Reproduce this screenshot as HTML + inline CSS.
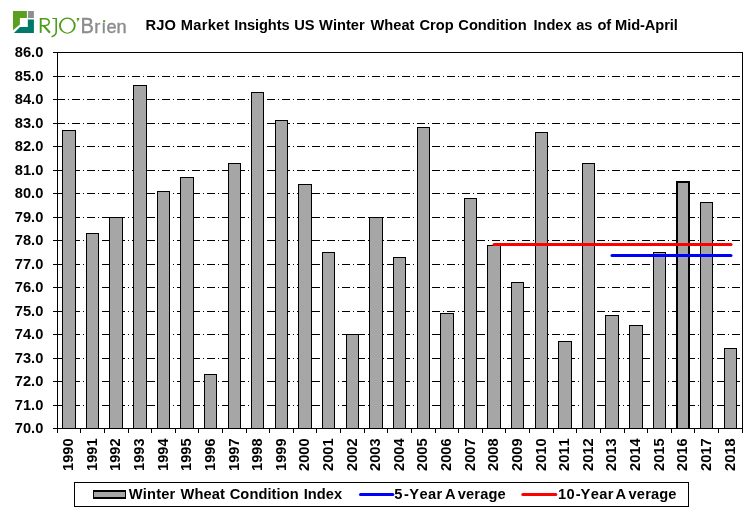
<!DOCTYPE html>
<html><head><meta charset="utf-8"><title>RJO Winter Wheat Crop Condition Index</title>
<style>
html,body{margin:0;padding:0;background:#fff;}
body{width:756px;height:516px;overflow:hidden;font-family:"Liberation Sans",sans-serif;}
svg{display:block;will-change:transform;}
text{font-family:"Liberation Sans",sans-serif;font-weight:bold;font-size:14.67px;fill:#000;font-kerning:none;}
.t{font-size:14.67px;}
.logo{font-weight:normal;font-size:21.4px;}
</style></head><body>
<svg width="756" height="516" viewBox="0 0 756 516">
<rect x="0" y="0" width="756" height="516" fill="#fff"/>

<g stroke="#000" stroke-width="1" shape-rendering="crispEdges" fill="none">
<line x1="57" y1="76.5" x2="741" y2="76.5" stroke-dasharray="8 3 1 3"/>
<line x1="57" y1="99.5" x2="741" y2="99.5" stroke-dasharray="8 3 1 3"/>
<line x1="57" y1="123.5" x2="741" y2="123.5" stroke-dasharray="8 3 1 3"/>
<line x1="57" y1="146.5" x2="741" y2="146.5" stroke-dasharray="8 3 1 3"/>
<line x1="57" y1="170.5" x2="741" y2="170.5" stroke-dasharray="8 3 1 3"/>
<line x1="57" y1="193.5" x2="741" y2="193.5" stroke-dasharray="8 3 1 3"/>
<line x1="57" y1="217.5" x2="741" y2="217.5" stroke-dasharray="8 3 1 3"/>
<line x1="57" y1="240.5" x2="741" y2="240.5" stroke-dasharray="8 3 1 3"/>
<line x1="57" y1="264.5" x2="741" y2="264.5" stroke-dasharray="8 3 1 3"/>
<line x1="57" y1="287.5" x2="741" y2="287.5" stroke-dasharray="8 3 1 3"/>
<line x1="57" y1="311.5" x2="741" y2="311.5" stroke-dasharray="8 3 1 3"/>
<line x1="57" y1="334.5" x2="741" y2="334.5" stroke-dasharray="8 3 1 3"/>
<line x1="57" y1="358.5" x2="741" y2="358.5" stroke-dasharray="8 3 1 3"/>
<line x1="57" y1="381.5" x2="741" y2="381.5" stroke-dasharray="8 3 1 3"/>
<line x1="57" y1="405.5" x2="741" y2="405.5" stroke-dasharray="8 3 1 3"/>
</g>
<g stroke="#000" stroke-width="1" shape-rendering="crispEdges" fill="#a6a6a6">
<rect x="62.5" y="130.5" width="13" height="298"/>
<rect x="86.5" y="233.5" width="12" height="195"/>
<rect x="109.5" y="217.5" width="13" height="211"/>
<rect x="133.5" y="85.5" width="13" height="343"/>
<rect x="157.5" y="191.5" width="12" height="237"/>
<rect x="180.5" y="177.5" width="13" height="251"/>
<rect x="204.5" y="374.5" width="12" height="54"/>
<rect x="228.5" y="163.5" width="12" height="265"/>
<rect x="251.5" y="92.5" width="12" height="336"/>
<rect x="275.5" y="120.5" width="12" height="308"/>
<rect x="298.5" y="184.5" width="13" height="244"/>
<rect x="322.5" y="252.5" width="12" height="176"/>
<rect x="346.5" y="334.5" width="12" height="94"/>
<rect x="369.5" y="217.5" width="13" height="211"/>
<rect x="393.5" y="257.5" width="12" height="171"/>
<rect x="417.5" y="127.5" width="12" height="301"/>
<rect x="440.5" y="313.5" width="13" height="115"/>
<rect x="464.5" y="198.5" width="12" height="230"/>
<rect x="487.5" y="245.5" width="13" height="183"/>
<rect x="511.5" y="282.5" width="12" height="146"/>
<rect x="535.5" y="132.5" width="12" height="296"/>
<rect x="558.5" y="341.5" width="13" height="87"/>
<rect x="582.5" y="163.5" width="12" height="265"/>
<rect x="605.5" y="315.5" width="13" height="113"/>
<rect x="629.5" y="325.5" width="13" height="103"/>
<rect x="653.5" y="252.5" width="12" height="176"/>
<rect x="677" y="182" width="12" height="246" stroke="none"/><path d="M677 428V182H689V428" stroke-width="2" fill="none"/>
<rect x="700.5" y="202.5" width="12" height="226"/>
<rect x="724.5" y="348.5" width="12" height="80"/>
</g>
<g stroke="#000" stroke-width="1" shape-rendering="crispEdges" fill="none">
<path d="M57.5 52.5H742.5V428.5H57.5Z"/>
<line x1="53" y1="52.5" x2="58" y2="52.5"/>
<line x1="53" y1="76.5" x2="58" y2="76.5"/>
<line x1="53" y1="99.5" x2="58" y2="99.5"/>
<line x1="53" y1="123.5" x2="58" y2="123.5"/>
<line x1="53" y1="146.5" x2="58" y2="146.5"/>
<line x1="53" y1="170.5" x2="58" y2="170.5"/>
<line x1="53" y1="193.5" x2="58" y2="193.5"/>
<line x1="53" y1="217.5" x2="58" y2="217.5"/>
<line x1="53" y1="240.5" x2="58" y2="240.5"/>
<line x1="53" y1="264.5" x2="58" y2="264.5"/>
<line x1="53" y1="287.5" x2="58" y2="287.5"/>
<line x1="53" y1="311.5" x2="58" y2="311.5"/>
<line x1="53" y1="334.5" x2="58" y2="334.5"/>
<line x1="53" y1="358.5" x2="58" y2="358.5"/>
<line x1="53" y1="381.5" x2="58" y2="381.5"/>
<line x1="53" y1="405.5" x2="58" y2="405.5"/>
<line x1="53" y1="428.5" x2="58" y2="428.5"/>
<line x1="57.5" y1="428" x2="57.5" y2="433"/>
<line x1="80.5" y1="428" x2="80.5" y2="433"/>
<line x1="104.5" y1="428" x2="104.5" y2="433"/>
<line x1="128.5" y1="428" x2="128.5" y2="433"/>
<line x1="151.5" y1="428" x2="151.5" y2="433"/>
<line x1="175.5" y1="428" x2="175.5" y2="433"/>
<line x1="198.5" y1="428" x2="198.5" y2="433"/>
<line x1="222.5" y1="428" x2="222.5" y2="433"/>
<line x1="246.5" y1="428" x2="246.5" y2="433"/>
<line x1="269.5" y1="428" x2="269.5" y2="433"/>
<line x1="293.5" y1="428" x2="293.5" y2="433"/>
<line x1="316.5" y1="428" x2="316.5" y2="433"/>
<line x1="340.5" y1="428" x2="340.5" y2="433"/>
<line x1="364.5" y1="428" x2="364.5" y2="433"/>
<line x1="387.5" y1="428" x2="387.5" y2="433"/>
<line x1="411.5" y1="428" x2="411.5" y2="433"/>
<line x1="435.5" y1="428" x2="435.5" y2="433"/>
<line x1="458.5" y1="428" x2="458.5" y2="433"/>
<line x1="482.5" y1="428" x2="482.5" y2="433"/>
<line x1="505.5" y1="428" x2="505.5" y2="433"/>
<line x1="529.5" y1="428" x2="529.5" y2="433"/>
<line x1="553.5" y1="428" x2="553.5" y2="433"/>
<line x1="576.5" y1="428" x2="576.5" y2="433"/>
<line x1="600.5" y1="428" x2="600.5" y2="433"/>
<line x1="624.5" y1="428" x2="624.5" y2="433"/>
<line x1="647.5" y1="428" x2="647.5" y2="433"/>
<line x1="671.5" y1="428" x2="671.5" y2="433"/>
<line x1="694.5" y1="428" x2="694.5" y2="433"/>
<line x1="718.5" y1="428" x2="718.5" y2="433"/>
<line x1="742.5" y1="428" x2="742.5" y2="433"/>
</g>
<line x1="494" y1="244.5" x2="731" y2="244.5" stroke="#ff0000" stroke-width="3" stroke-linecap="round"/>
<line x1="612" y1="255.5" x2="731" y2="255.5" stroke="#0000ff" stroke-width="3" stroke-linecap="round"/>
<text x="43.3" y="56.8" text-anchor="end">86.0</text>
<text x="43.3" y="80.8" text-anchor="end">85.0</text>
<text x="43.3" y="103.8" text-anchor="end">84.0</text>
<text x="43.3" y="127.8" text-anchor="end">83.0</text>
<text x="43.3" y="150.8" text-anchor="end">82.0</text>
<text x="43.3" y="174.8" text-anchor="end">81.0</text>
<text x="43.3" y="197.8" text-anchor="end">80.0</text>
<text x="43.3" y="221.8" text-anchor="end">79.0</text>
<text x="43.3" y="244.8" text-anchor="end">78.0</text>
<text x="43.3" y="268.8" text-anchor="end">77.0</text>
<text x="43.3" y="291.8" text-anchor="end">76.0</text>
<text x="43.3" y="315.8" text-anchor="end">75.0</text>
<text x="43.3" y="338.8" text-anchor="end">74.0</text>
<text x="43.3" y="362.8" text-anchor="end">73.0</text>
<text x="43.3" y="385.8" text-anchor="end">72.0</text>
<text x="43.3" y="409.8" text-anchor="end">71.0</text>
<text x="43.3" y="432.8" text-anchor="end">70.0</text>
<text transform="translate(73.1 471) rotate(-90)">1990</text>
<text transform="translate(96.7 471) rotate(-90)">1991</text>
<text transform="translate(120.4 471) rotate(-90)">1992</text>
<text transform="translate(144.0 471) rotate(-90)">1993</text>
<text transform="translate(167.6 471) rotate(-90)">1994</text>
<text transform="translate(191.2 471) rotate(-90)">1995</text>
<text transform="translate(214.8 471) rotate(-90)">1996</text>
<text transform="translate(238.5 471) rotate(-90)">1997</text>
<text transform="translate(262.1 471) rotate(-90)">1998</text>
<text transform="translate(285.7 471) rotate(-90)">1999</text>
<text transform="translate(309.3 471) rotate(-90)">2000</text>
<text transform="translate(332.9 471) rotate(-90)">2001</text>
<text transform="translate(356.6 471) rotate(-90)">2002</text>
<text transform="translate(380.2 471) rotate(-90)">2003</text>
<text transform="translate(403.8 471) rotate(-90)">2004</text>
<text transform="translate(427.4 471) rotate(-90)">2005</text>
<text transform="translate(451.0 471) rotate(-90)">2006</text>
<text transform="translate(474.7 471) rotate(-90)">2007</text>
<text transform="translate(498.3 471) rotate(-90)">2008</text>
<text transform="translate(521.9 471) rotate(-90)">2009</text>
<text transform="translate(545.5 471) rotate(-90)">2010</text>
<text transform="translate(569.1 471) rotate(-90)">2011</text>
<text transform="translate(592.8 471) rotate(-90)">2012</text>
<text transform="translate(616.4 471) rotate(-90)">2013</text>
<text transform="translate(640.0 471) rotate(-90)">2014</text>
<text transform="translate(663.6 471) rotate(-90)">2015</text>
<text transform="translate(687.2 471) rotate(-90)">2016</text>
<text transform="translate(710.9 471) rotate(-90)">2017</text>
<text transform="translate(734.5 471) rotate(-90)">2018</text>
<text class="t" x="145.5" y="29.5" style="letter-spacing:0.15px">RJO</text>
<text class="t" x="180.7" y="29.5" style="letter-spacing:0.3px">Market</text>
<text class="t" x="234.3" y="29.5" style="letter-spacing:-0.13px">Insights</text>
<text class="t" x="294.2" y="29.5" style="letter-spacing:0px">US</text>
<text class="t" x="319.1" y="29.5" style="letter-spacing:0px">Winter</text>
<text class="t" x="370.5" y="29.5" style="letter-spacing:0px">Wheat</text>
<text class="t" x="419.5" y="29.5" style="letter-spacing:0px">Crop</text>
<text class="t" x="458.3" y="29.5" style="letter-spacing:0px">Condition</text>
<text class="t" x="533.4" y="29.5" style="letter-spacing:0px">Index</text>
<text class="t" x="576.2" y="29.5" style="letter-spacing:0px">as</text>
<text class="t" x="597.4" y="29.5" style="letter-spacing:0px">of</text>
<text class="t" x="615.1" y="29.5" style="letter-spacing:-0.1px">Mid-April</text>
<g stroke="#000" stroke-width="1" shape-rendering="crispEdges">
<rect x="74.5" y="482.5" width="614" height="24" fill="#fff"/>
<rect x="93" y="490" width="33" height="9" fill="#000" stroke="none"/><rect x="94" y="492" width="31" height="5" fill="#a6a6a6" stroke="none"/>
</g>
<text class="t" x="128.8" y="498.5" style="letter-spacing:0.18px">Winter</text>
<text class="t" x="180.6" y="498.5" style="letter-spacing:0.07px">Wheat</text>
<text class="t" x="229.7" y="498.5" style="letter-spacing:0.08px">Condition</text>
<text class="t" x="303.8" y="498.5" style="letter-spacing:0px">Index</text>
<text class="t" x="394.3" y="498.5" style="letter-spacing:0px">5</text>
<text class="t" x="404.1" y="498.5" style="letter-spacing:0px">-</text>
<text class="t" x="409.3" y="498.5" style="letter-spacing:0.35px">Year</text>
<text class="t" x="445.1" y="498.5" style="letter-spacing:0px">A</text>
<text class="t" x="457.8" y="498.5" style="letter-spacing:0.12px">verage</text>
<text class="t" x="558.1" y="498.5" style="letter-spacing:0.3px">10</text>
<text class="t" x="575.8" y="498.5" style="letter-spacing:0px">-</text>
<text class="t" x="580.6" y="498.5" style="letter-spacing:0.35px">Year</text>
<text class="t" x="615.5" y="498.5" style="letter-spacing:0px">A</text>
<text class="t" x="628.6" y="498.5" style="letter-spacing:0.12px">verage</text>
<line x1="360.5" y1="494.5" x2="392.8" y2="494.5" stroke="#0000ff" stroke-width="3" stroke-linecap="round"/>
<line x1="522.8" y1="494.5" x2="555.8" y2="494.5" stroke="#ff0000" stroke-width="3" stroke-linecap="round"/>
<g>
<polygon points="13,11 26.9,11 26.9,18 19.9,18 19.9,24.6 13,30.2" fill="#5a9f20"/>
<rect x="28.1" y="11" width="5.8" height="7" fill="#8e8e8e"/>
<polygon points="27.8,19.5 33.9,19.5 33.9,33 13.9,33 20,27.1 27.8,27.1" fill="#00796d"/>
<g fill="none" stroke="#4e9c1c" stroke-width="1.6">
<path d="M40.7 18V32.9" stroke-width="1.9"/>
<path d="M40.7 18.7H44.6C47.8 18.7 49.2 20.2 49.2 22.1C49.2 24.3 47.2 25.7 44.2 25.7H40.7" stroke-width="1.5"/>
<path d="M43.6 25.6L49.9 32.8" stroke-width="2.1"/>
<path d="M52.3 18.5H56.2" stroke-width="1"/>
<path d="M56.2 18V31.8C56.2 34.4 54.6 35.9 51.6 36.8" stroke-width="1.6"/>
</g>
<path fill="#4e9c1c" fill-rule="evenodd" d="M59 25.65a8.35 8.05 0 1 0 16.7 0a8.35 8.05 0 1 0 -16.7 0ZM60.9 25.65a6.45 7.0 0 1 0 12.9 0a6.45 7.0 0 1 0 -12.9 0Z"/>
<path d="M76.8 18.1H79.2V19.6L77.6 21.4H76.8L77.7 19.8H76.8Z" fill="#4e9c1c"/>

<text class="logo" transform="translate(80.45 32.7) scale(0.94 1)" style="fill:#8c8c8c;stroke:#8c8c8c;stroke-width:0.35px">B</text>
<text class="logo" x="94.2" y="32.7" style="fill:#8c8c8c;stroke:#8c8c8c;stroke-width:0.35px;font-size:18.2px">r</text>
<text class="logo" x="101.3" y="32.7" style="fill:#8c8c8c;stroke:#8c8c8c;stroke-width:0.35px;font-size:18.2px">ı</text>
<text class="logo" x="106.5" y="32.7" style="fill:#8c8c8c;stroke:#8c8c8c;stroke-width:0.35px;font-size:18.2px">e</text>
<text class="logo" x="116.4" y="32.7" style="fill:#8c8c8c;stroke:#8c8c8c;stroke-width:0.35px;font-size:18.2px">n</text>
<rect x="103.1" y="20.2" width="2" height="1.9" fill="#4e9c1c"/>
</g>
</svg></body></html>
